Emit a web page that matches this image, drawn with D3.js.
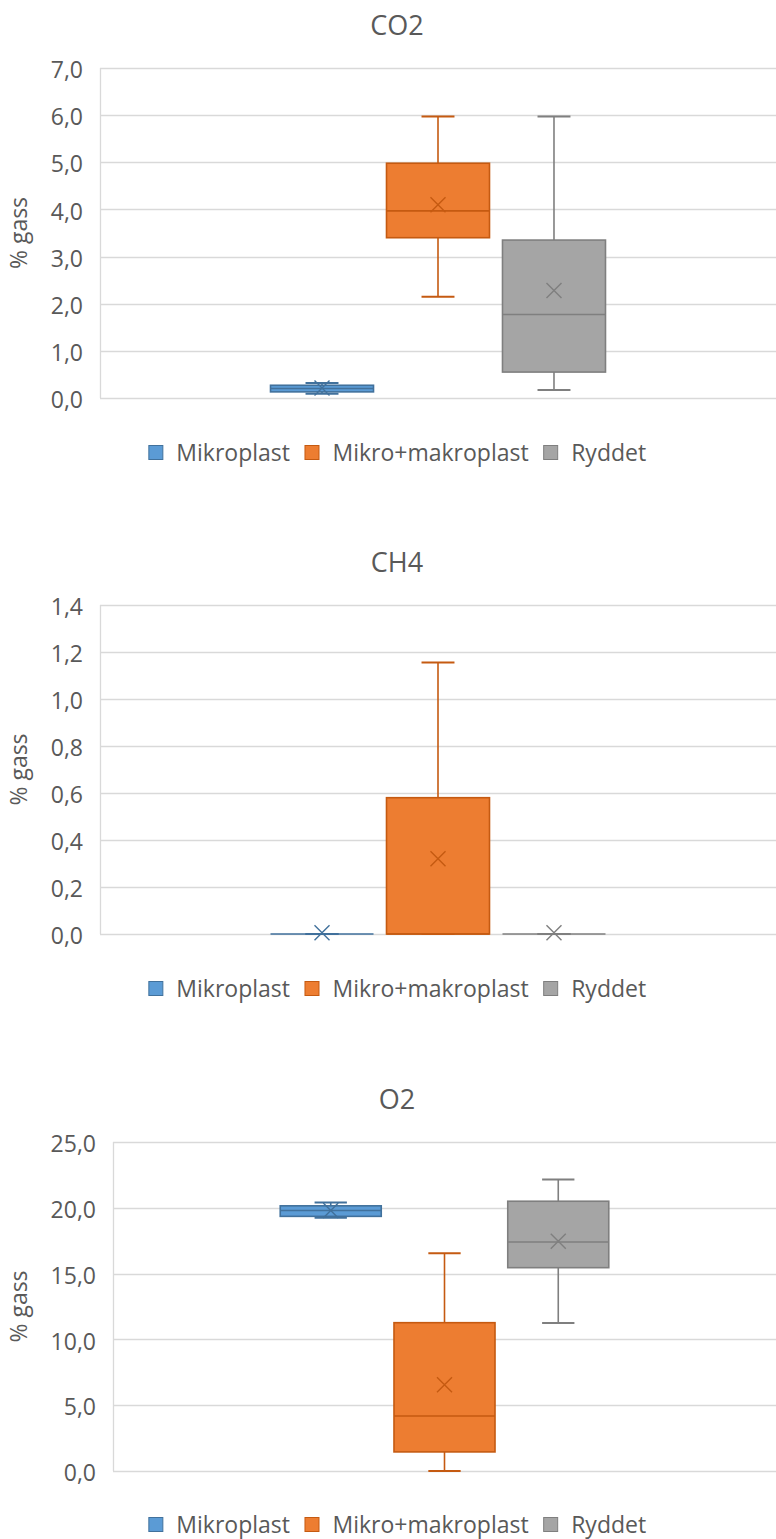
<!DOCTYPE html>
<html>
<head>
<meta charset="utf-8">
<script src="https://cdn.jsdelivr.net/npm/d3@7"></script>
<style>
  html, body { margin: 0; padding: 0; background: #fff; }
  svg { display: block; }
  text { font-family: "Open Sans", "Noto Sans", sans-serif; fill: #595959; }
</style>
</head>
<body>
<svg id="chart" width="776" height="1539"></svg>
<script>
// ---------- DATA ----------
const series = ["Mikroplast", "Mikro+makroplast", "Ryddet"];
const yAxisTitle = "% gass";

const co2Title = "CO2";
const co2Ticks = [0, 1, 2, 3, 4, 5, 6, 7];
const co2Min    = [0.09, 2.15, 0.17];
const co2Q1     = [0.13, 3.40, 0.55];
const co2Median = [0.20, 3.97, 1.77];
const co2Q3     = [0.27, 4.98, 3.35];
const co2Max    = [0.32, 5.97, 5.97];
const co2Mean   = [0.21, 4.10, 2.28];

const ch4Title = "CH4";
const ch4Ticks = [0, 0.2, 0.4, 0.6, 0.8, 1.0, 1.2, 1.4];
const ch4Min    = [0.0, 0.0, 0.0];
const ch4Q1     = [0.0, 0.0, 0.0];
const ch4Median = [0.0, 0.0, 0.0];
const ch4Q3     = [0.0, 0.58, 0.0];
const ch4Max    = [0.0, 1.155, 0.0];
const ch4Mean   = [0.005, 0.32, 0.005];

const o2Title = "O2";
const o2Ticks = [0, 5, 10, 15, 20, 25];
const o2Min    = [19.25, 0.0, 11.25];
const o2Q1     = [19.35, 1.45, 15.45];
const o2Median = [19.80, 4.18, 17.40];
const o2Q3     = [20.15, 11.27, 20.50];
const o2Max    = [20.40, 16.55, 22.15];
const o2Mean   = [19.80, 6.55, 17.45];

const fills   = ["#5B9BD5", "#ED7D31", "#A5A5A5"];
const strokes = ["#41719C", "#C55A11", "#7F7F7F"];

// ---------- DRAW ----------
const svg = d3.select("#chart");
const locale = d3.formatLocale({ decimal: ",", thousands: " ", grouping: [3], currency: ["", ""] });
const fmt = locale.format(".1f");

function drawChart(cfg) {
  const g = svg.append("g");
  const y = d3.scaleLinear().domain([0, d3.max(cfg.ticks)]).range([cfg.bottom, cfg.top]);

  // outer band for the single category, inner band for the series
  const outer = d3.scaleBand().domain(["all"]).range([cfg.left, cfg.right]).paddingOuter(0.509).paddingInner(0);
  const inner = d3.scaleBand().domain(series)
    .range([outer("all"), outer("all") + outer.bandwidth()])
    .paddingInner(0.112).paddingOuter(0);

  // title
  g.append("text").attr("x", cfg.center).attr("y", cfg.titleY)
    .attr("text-anchor", "middle").style("font-size", "27px").text(cfg.title);

  // gridlines
  g.append("g").selectAll("line").data(cfg.ticks).join("line")
    .attr("x1", cfg.left).attr("x2", cfg.right)
    .attr("y1", d => Math.round(y(d)) + 0.5).attr("y2", d => Math.round(y(d)) + 0.5)
    .attr("stroke", "#D9D9D9").attr("stroke-width", 1.3);
  // axis line
  g.append("line").attr("x1", cfg.left + 0.5).attr("x2", cfg.left + 0.5)
    .attr("y1", y(d3.max(cfg.ticks))).attr("y2", y(0))
    .attr("stroke", "#D9D9D9").attr("stroke-width", 1.3);

  // y axis
  const axis = d3.axisLeft(y).tickValues(cfg.ticks).tickFormat(fmt).tickSize(0).tickPadding(17);
  const ag = g.append("g").attr("transform", `translate(${cfg.left},0)`).call(axis);
  ag.select(".domain").remove();
  ag.selectAll("text").style("font-size", "23px").attr("fill", "#595959")
    .style("font-family", '"Open Sans", "Noto Sans", sans-serif').attr("dy", "0.42em");

  // y title
  g.append("text")
    .attr("transform", `translate(${cfg.yTitleX},${(y(0) + y(d3.max(cfg.ticks))) / 2}) rotate(-90)`)
    .attr("text-anchor", "middle").attr("dy", "0.35em").style("font-size", "23px").text(yAxisTitle);

  // boxes
  const data = series.map((s, i) => ({
    s, i, min: cfg.min[i], q1: cfg.q1[i], med: cfg.median[i], q3: cfg.q3[i], max: cfg.max[i], mean: cfg.mean[i]
  }));
  const bw = inner.bandwidth();
  const capW = bw * 0.32;
  const bg = g.append("g").selectAll("g").data(data).join("g");

  // whiskers
  bg.append("line")
    .attr("x1", d => inner(d.s) + bw / 2).attr("x2", d => inner(d.s) + bw / 2)
    .attr("y1", d => y(d.max)).attr("y2", d => y(d.q3))
    .attr("stroke", d => strokes[d.i]).attr("stroke-width", 1.6);
  bg.append("line")
    .attr("x1", d => inner(d.s) + bw / 2).attr("x2", d => inner(d.s) + bw / 2)
    .attr("y1", d => y(d.q1)).attr("y2", d => y(d.min))
    .attr("stroke", d => strokes[d.i]).attr("stroke-width", 1.6);
  bg.append("line")
    .attr("x1", d => inner(d.s) + bw / 2 - capW / 2).attr("x2", d => inner(d.s) + bw / 2 + capW / 2)
    .attr("y1", d => y(d.max)).attr("y2", d => y(d.max))
    .attr("stroke", d => strokes[d.i]).attr("stroke-width", 2);
  bg.append("line")
    .attr("x1", d => inner(d.s) + bw / 2 - capW / 2).attr("x2", d => inner(d.s) + bw / 2 + capW / 2)
    .attr("y1", d => y(d.min)).attr("y2", d => y(d.min))
    .attr("stroke", d => strokes[d.i]).attr("stroke-width", 2);

  // box
  bg.append("rect")
    .attr("x", d => inner(d.s)).attr("width", bw)
    .attr("y", d => y(d.q3)).attr("height", d => Math.max(0, y(d.q1) - y(d.q3)))
    .attr("fill", d => fills[d.i]).attr("stroke", d => strokes[d.i]).attr("stroke-width", 1.6);
  // median
  bg.append("line")
    .attr("x1", d => inner(d.s)).attr("x2", d => inner(d.s) + bw)
    .attr("y1", d => y(d.med)).attr("y2", d => y(d.med))
    .attr("stroke", d => strokes[d.i]).attr("stroke-width", 1.6);
  // mean marker X
  const m = 7.5;
  bg.append("path")
    .attr("d", d => {
      const cx = inner(d.s) + bw / 2, cy = y(d.mean);
      return `M${cx - m},${cy - m}L${cx + m},${cy + m}M${cx - m},${cy + m}L${cx + m},${cy - m}`;
    })
    .attr("stroke", d => strokes[d.i]).attr("stroke-width", 1.4).attr("fill", "none");

  // legend
  const lg = g.append("g");
  const items = lg.selectAll("g").data(series).join("g");
  items.append("rect").attr("x", 0.5).attr("y", 0.5).attr("width", 14).attr("height", 14)
    .attr("fill", (d, i) => fills[i]).attr("stroke", (d, i) => strokes[i]).attr("stroke-width", 1);
  items.append("text").attr("x", 28).attr("y", 16).style("font-size", "23px").text(d => d);
  let xpos = 0;
  const gap = 15;
  items.each(function () {
    const w = this.getBBox().width;
    d3.select(this).attr("transform", `translate(${xpos},${cfg.legendY - 16})`);
    xpos += w + gap;
  });
  const total = xpos - gap;
  lg.attr("transform", `translate(${cfg.center - total / 2},0)`);
}

drawChart({ title: co2Title, ticks: co2Ticks, min: co2Min, q1: co2Q1, median: co2Median, q3: co2Q3, max: co2Max, mean: co2Mean,
  top: 68, bottom: 398, left: 100, right: 776, center: 397, titleY: 35, yTitleX: 19, legendY: 461 });
drawChart({ title: ch4Title, ticks: ch4Ticks, min: ch4Min, q1: ch4Q1, median: ch4Median, q3: ch4Q3, max: ch4Max, mean: ch4Mean,
  top: 605, bottom: 934, left: 100, right: 776, center: 397, titleY: 572, yTitleX: 19, legendY: 997 });
drawChart({ title: o2Title, ticks: o2Ticks, min: o2Min, q1: o2Q1, median: o2Median, q3: o2Q3, max: o2Max, mean: o2Mean,
  top: 1142, bottom: 1471, left: 113, right: 776, center: 397, titleY: 1109, yTitleX: 19, legendY: 1533 });
</script>
</body>
</html>
